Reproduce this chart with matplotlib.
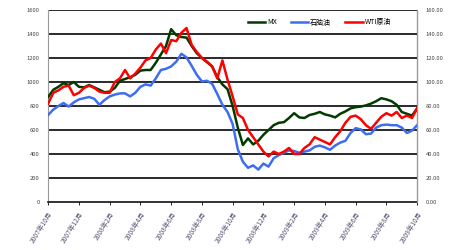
import numpy as np
import matplotlib
matplotlib.use("Agg")
import matplotlib.pyplot as plt

plt.rcParams['font.family'] = ['Noto Sans CJK SC', 'DejaVu Sans']

# 月份刻度标签 (2007年10月 - 2009年10月, 每两个月)
tick_labels = ['2007年10月', '2007年12月', '2008年2月', '2008年4月', '2008年6月',
               '2008年8月', '2008年10月', '2008年12月', '2009年2月', '2009年4月',
               '2009年6月', '2009年8月', '2009年10月']

# 数据: 每1/3个月一个点
mx = [875, 935, 960, 990, 975, 1000, 960, 955, 975, 955, 935, 915, 920, 950, 1010,
      1025, 1040, 1060, 1095, 1100, 1100, 1160, 1230, 1300, 1440, 1390, 1375, 1370,
      1300, 1240, 1200, 1165, 1130, 1040, 980, 940, 800, 620, 475, 530, 480, 510,
      560, 600, 640, 660, 665, 700, 740, 705, 700, 725, 735, 750, 730, 720, 705,
      735, 755, 780, 790, 795, 805, 820, 840, 865, 855, 840, 810, 750, 735, 720, 780]
naphtha = [725, 770, 800, 825, 795, 830, 855, 865, 875, 860, 810, 850, 880, 895, 905,
           905, 880, 910, 960, 980, 970, 1030, 1100, 1110, 1130, 1170, 1235, 1205,
           1135, 1060, 1005, 1010, 985, 900, 810, 750, 650, 440, 335, 285, 305, 270,
           320, 295, 365, 390, 410, 430, 425, 410, 420, 430, 460, 470, 455, 435, 470,
           495, 510, 575, 615, 605, 565, 570, 620, 640, 645, 640, 640, 620, 575, 595, 640]
wti = [82, 91, 93, 96, 97, 89, 91, 95, 97, 95, 92, 91, 91, 100, 103, 110, 103, 107,
       112, 118, 120, 127, 132, 124, 135, 134, 141, 145, 131, 125, 120, 117, 113, 103,
       118, 102, 88, 73, 70, 60, 54, 48, 42, 38, 42, 40, 42, 45, 40, 40, 45, 48, 54,
       52, 50, 48, 54, 59, 66, 71, 72, 69, 64, 61, 66, 71, 74, 72, 75, 70, 72, 70, 78]

x = np.arange(len(mx)) / 3.0

fig = plt.figure(figsize=(4.5, 2.5), dpi=100)
ax = fig.add_axes([0.107, 0.192, 0.82, 0.768])
ax2 = ax.twinx()

ax.set_ylim(0, 1600)
ax2.set_ylim(0, 160)
ax.set_xlim(0, 24)

ax.set_yticks(np.arange(0, 1601, 200))
ax.set_yticklabels([str(v) for v in range(0, 1601, 200)])
ax2.set_yticks(np.arange(0, 161, 20))
ax2.set_yticklabels(['%.2f' % v for v in range(0, 161, 20)])

for v in range(200, 1601, 200):
    ax.axhline(v, color='#2a2a2a', lw=1.4, zorder=1)

l1, = ax.plot(x, mx, color='#003b00', lw=1.8, label='MX', zorder=3)
l2, = ax.plot(x, naphtha, color='#3d6ef0', lw=1.8, label='石脑油', zorder=3)
l3, = ax2.plot(x, wti, color='#ff0000', lw=1.8, label='WTI原油', zorder=3)

ax.set_xticks(np.arange(0, 25, 2))
ax.set_xticklabels(tick_labels, rotation=58, ha='right', rotation_mode='anchor',
                   fontsize=4.8, color='#555577')

for a in (ax, ax2):
    a.tick_params(axis='y', labelsize=4.2, colors='#444444', length=0, pad=6)
ax.tick_params(axis='x', length=2, width=0.6, pad=4)

ax.spines['top'].set_visible(False)
ax2.spines['top'].set_visible(False)
ax.spines['left'].set_color('#999999')
ax2.spines['left'].set_visible(False)
ax2.spines['right'].set_color('#999999')
ax2.spines['bottom'].set_visible(False)
ax.spines['bottom'].set_color('#111111')
ax.spines['bottom'].set_linewidth(1.2)

ax.legend(handles=[l1, l2, l3], loc='center', bbox_to_anchor=(0.735, 0.935),
          ncol=3, frameon=False, fontsize=5, handlelength=2.5, columnspacing=2.0,
          handletextpad=0.3)

fig.savefig('out.png', dpi=100)
